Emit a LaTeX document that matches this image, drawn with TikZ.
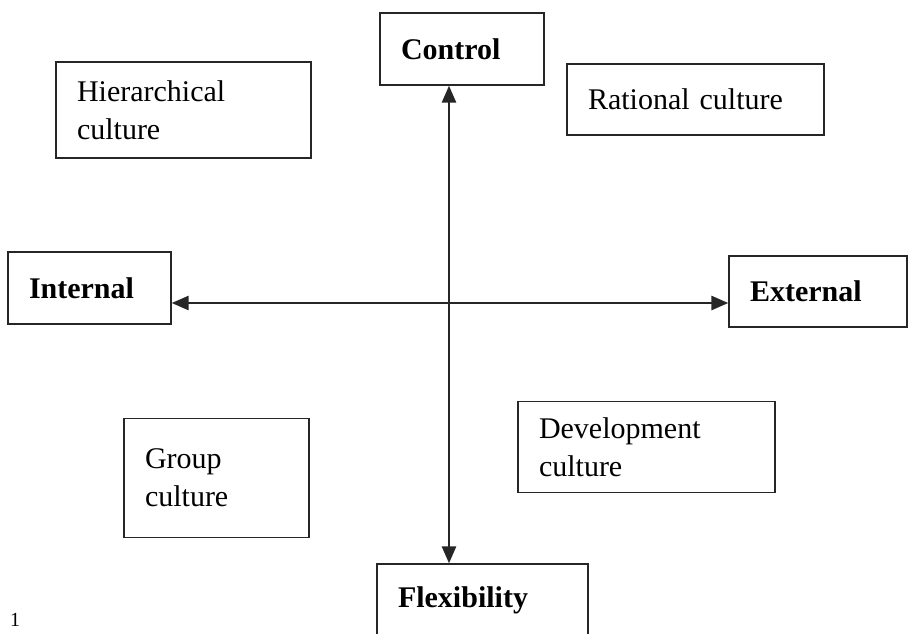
\documentclass[tikz,border=0pt]{standalone}
\usepackage{fontspec}
\setmainfont{Liberation Serif}
\usetikzlibrary{arrows.meta}
\begin{document}
\begin{tikzpicture}[x=1pt,y=-1pt,
  box/.style={draw=black!85,line width=1.3pt,inner xsep=21pt,inner ysep=0pt,
    align=left,font=\fontsize{30}{38}\selectfont},
  head/.style={box,font=\fontsize{30}{38}\selectfont\bfseries},
  axis/.style={line width=2.6pt,draw=black!85,
    {Triangle[length=17pt,width=14pt]}-{Triangle[length=17pt,width=14pt]}}]
\useasboundingbox (0,0) rectangle (909,633);
\node[head,minimum width=164pt,minimum height=72pt,text width=122pt] (ctrl) at (462,49) {Control};
\node[box,minimum width=255pt,minimum height=96pt,text width=213pt] (hier) at (183.5,110) {Hierarchical\\culture};
\node[box,minimum width=257pt,minimum height=71pt,text width=215pt] (rat) at (695.5,99.5) {Rational culture};
\node[head,minimum width=163pt,minimum height=72pt,text width=121pt] (int) at (89.5,288) {Internal};
\node[head,minimum width=178pt,minimum height=71pt,text width=136pt] (ext) at (818,291.5) {External};
\node[box,minimum width=185pt,minimum height=119pt,text width=143pt] (grp) at (216.5,478) {Group\\culture};
\node[box,minimum width=257pt,minimum height=91pt,text width=215pt] (dev) at (646.5,447) {Development\\culture};
\node[head,minimum width=211pt,minimum height=72pt,text width=169pt] (flex) at (482.5,600) {Flexibility};
\node[anchor=south west,inner sep=0pt,font=\fontsize{20}{24}\selectfont] (fn) at (10,627) {1};
\coordinate (c) at (449,303);
\draw[axis] (ctrl.south -| c) -- (flex.north -| c);
\draw[axis] (int.east |- c) -- (ext.west |- c);
\end{tikzpicture}
\end{document}
